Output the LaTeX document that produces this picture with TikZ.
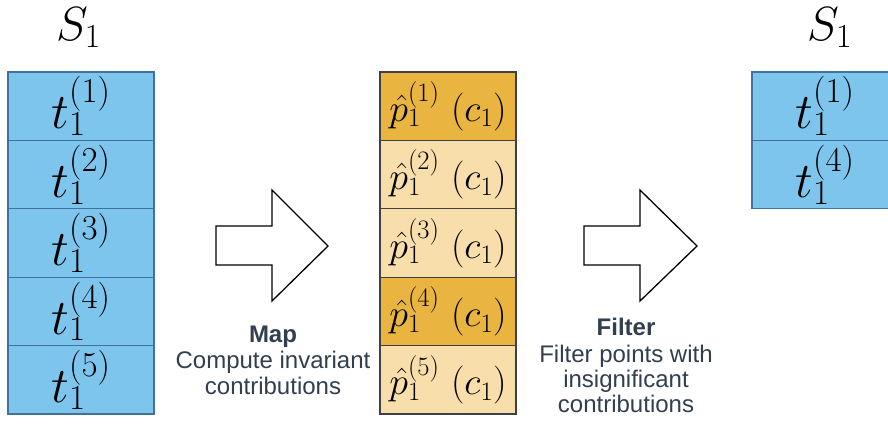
\RequirePackage{fix-cm}
\documentclass[tikz,border=0pt]{standalone}
\usepackage{fontspec}
\newfontfamily\labelfont{Liberation Sans}

\definecolor{cellblue}{RGB}{125,197,236}
\definecolor{blueedge}{RGB}{65,113,156}
\definecolor{goldcell}{RGB}{233,180,64}
\definecolor{sandcell}{RGB}{247,222,171}
\definecolor{grayedge}{RGB}{64,64,64}
\definecolor{inkslate}{RGB}{50,63,79}

\tikzset{
  tcell/.style={draw=blueedge, fill=cellblue, line width=1.3pt,
    minimum width=146pt, minimum height=68.4pt, inner sep=0pt,
    font=\fontsize{50}{52}\selectfont},
  pcell/.style={draw=grayedge, line width=1.3pt,
    minimum width=136pt, minimum height=68.4pt, inner sep=0pt,
    font=\fontsize{38}{40}\selectfont},
  keep/.style={pcell, fill=goldcell},
  drop/.style={pcell, fill=sandcell},
  setname/.style={inner sep=0pt, anchor=base, font=\fontsize{48}{50}\selectfont},
  blockarrow/.style={draw=black, fill=white, line width=1.3pt, line join=miter},
  caption/.style={inner sep=0pt, anchor=base, text=inkslate,
    font=\labelfont\fontsize{24}{26}\selectfont},
}

\begin{document}
\begin{tikzpicture}[x=1pt, y=-1pt]
\clip (0,0) rectangle (888,424);
\fill[white] (0,0) rectangle (888,424);

% input set
\node[setname] (sin) at (78.5,40) {$S_1$};
\node[tcell] (t1) at (81,106.2) {$t_1^{(1)}$};
\node[tcell] (t2) at (81,174.6) {$t_1^{(2)}$};
\node[tcell] (t3) at (81,243.0) {$t_1^{(3)}$};
\node[tcell] (t4) at (81,311.4) {$t_1^{(4)}$};
\node[tcell] (t5) at (81,379.8) {$t_1^{(5)}$};

% map step
\draw[blockarrow] (216,226) -- (272,226) -- (272,190) -- (328,246)
  -- (272,301) -- (272,265) -- (216,265) -- cycle;
\node[caption] (maptitle) at (273,342) {\bfseries Map};
\node[caption] (mapline1) at (273,368) {Compute invariant};
\node[caption] (mapline2) at (273,394) {contributions};

% contributions
\node[keep] (p1) at (448,106.2) {$\hat{p}_1^{(1)}\ (c_1)$};
\node[drop] (p2) at (448,174.6) {$\hat{p}_1^{(2)}\ (c_1)$};
\node[drop] (p3) at (448,243.0) {$\hat{p}_1^{(3)}\ (c_1)$};
\node[keep] (p4) at (448,311.4) {$\hat{p}_1^{(4)}\ (c_1)$};
\node[drop] (p5) at (448,379.8) {$\hat{p}_1^{(5)}\ (c_1)$};

% filter step
\draw[blockarrow] (584,226) -- (640,226) -- (640,190) -- (697,246)
  -- (640,301) -- (640,265) -- (584,265) -- cycle;
\node[caption] (filttitle) at (626,335) {\bfseries Filter};
\node[caption] (filtline1) at (626,362) {Filter points with};
\node[caption] (filtline2) at (626,387) {insignificant};
\node[caption] (filtline3) at (626,412) {contributions};

% filtered set
\node[setname] (sout) at (829.5,40) {$S_1$};
\node[tcell] (r1) at (825,106.2) {$t_1^{(1)}$};
\node[tcell] (r4) at (825,174.6) {$t_1^{(4)}$};
\end{tikzpicture}
\end{document}
